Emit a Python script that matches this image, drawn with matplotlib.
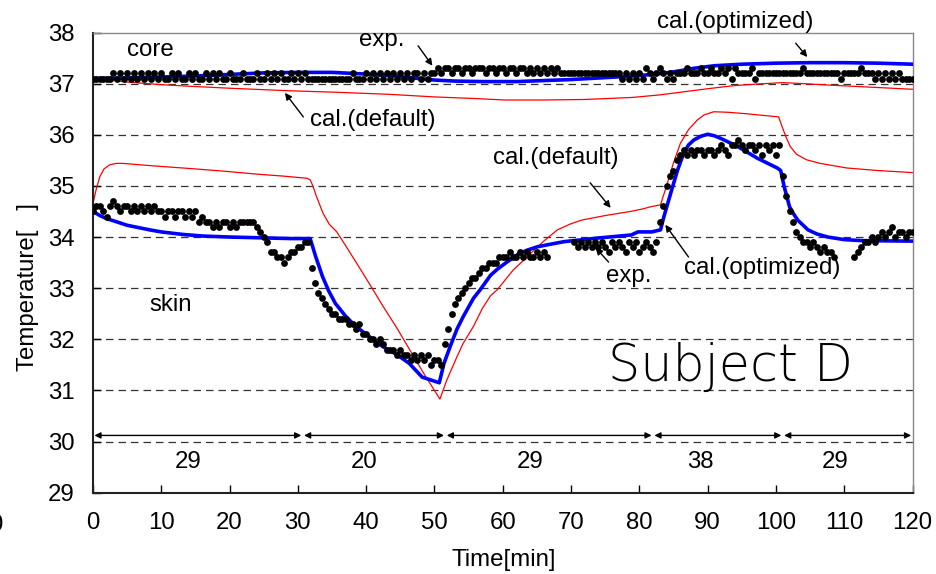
import numpy as np
import matplotlib
matplotlib.use('Agg')
import matplotlib.pyplot as plt

plt.rcParams['font.family'] = ['Liberation Sans', 'DejaVu Sans']

# measured values, sampled every 0.5 min (nan = no record)
t_exp = np.arange(0, 120.5, 0.5)

skin_exp = [
    34.5, 34.6, 34.6, 34.5, 34.4, 34.6, 34.7, 34.6, 34.5, 34.6, 34.6, 34.5, 34.6, 34.5, 34.6, 34.5, 34.6, 34.5, 34.6, 34.5,
    34.5, 34.4, 34.5, 34.5, 34.4, 34.5, 34.5, 34.4, 34.5, 34.4, 34.5, 34.3, 34.4, 34.3, 34.3, 34.2, 34.3, 34.2, 34.3, 34.3,
    34.2, 34.3, 34.2, 34.3, 34.3, 34.3, 34.3, 34.3, 34.2, 34.1, 34.0, 33.9, 33.7, 33.7, 33.6, 33.6, 33.5, 33.6, 33.7, 33.7,
    33.8, 33.8, 33.9, 33.9, 33.4, 33.1, 32.9, 32.8, 32.7, 32.6, 32.5, 32.5, 32.4, 32.4, 32.4, 32.3, 32.3, 32.2, 32.3, 32.1,
    32.1, 32.0, 32.0, 31.9, 32.0, 31.9, 31.8, 31.8, 31.8, 31.7, 31.8, 31.7, 31.7, 31.6, 31.7, 31.6, 31.7, 31.6, 31.7, 31.5,
    31.6, 31.6, 31.5, 31.9, 32.2, 32.5, 32.7, 32.8, 32.9, 33.0, 33.1, 33.2, 33.2, 33.3, 33.4, 33.4, 33.5, 33.5, 33.5, 33.6,
    33.6, 33.6, 33.7, 33.6, 33.6, 33.7, 33.6, 33.7, 33.6, 33.6, 33.7, 33.6, 33.7, 33.6, np.nan, np.nan, np.nan, np.nan, np.nan, np.nan,
    np.nan, 33.9, 33.8, 33.9, 33.8, 33.9, 33.8, 33.9, 33.8, 33.9, 33.8, 33.7, 33.9, 33.8, 33.9, 33.8, 33.7, 33.9, 33.8, 33.9,
    33.7, 33.8, 33.9, 33.8, 33.7, 33.9, 34.3, 34.6, 35.0, 35.2, 35.3, 35.5, 35.6, 35.7, 35.6, 35.7, 35.6, 35.7, 35.7, 35.6,
    35.7, 35.7, 35.6, 35.7, 35.8, 35.7, 35.6, 35.8, 35.8, 35.9, 35.8, 35.7, 35.8, 35.8, 35.7, 35.8, 35.6, 35.8, 35.7, 35.8,
    35.6, 35.8, 35.2, 34.8, 34.5, 34.3, 34.1, 34.0, 33.9, 33.9, 33.8, 33.9, 33.8, 33.7, 33.8, 33.7, 33.7, 33.6, np.nan, np.nan,
    np.nan, np.nan, np.nan, 33.6, 33.7, 33.8, 33.9, 33.9, 34.0, 33.9, 34.0, 34.1, 34.0, 34.1, 34.2, 34.0, 34.1, 34.1, 34.0, 34.1, 34.1]

core_exp = [
    37.1, 37.1, 37.1, 37.1, 37.1, 37.1, 37.2, 37.1, 37.2, 37.1, 37.2, 37.1, 37.2, 37.1, 37.2, 37.1, 37.2, 37.1, 37.2, 37.1,
    37.2, 37.1, 37.1, 37.2, 37.1, 37.2, 37.1, 37.1, 37.2, 37.1, 37.2, 37.1, 37.1, 37.2, 37.1, 37.2, 37.1, 37.2, 37.1, 37.1,
    37.2, 37.1, 37.1, 37.1, 37.2, 37.1, 37.1, 37.1, 37.2, 37.1, 37.1, 37.2, 37.1, 37.2, 37.1, 37.2, 37.1, 37.1, 37.2, 37.1,
    37.2, 37.1, 37.2, 37.1, 37.1, 37.1, 37.1, 37.1, 37.1, 37.1, 37.1, 37.1, 37.1, 37.1, 37.1, 37.1, 37.2, 37.1, 37.1, 37.1,
    37.2, 37.1, 37.2, 37.1, 37.2, 37.1, 37.2, 37.1, 37.2, 37.1, 37.2, 37.1, 37.2, 37.1, 37.2, 37.2, 37.1, 37.2, 37.1, 37.2,
    37.2, 37.3, 37.2, 37.3, 37.3, 37.2, 37.3, 37.3, 37.2, 37.3, 37.3, 37.2, 37.3, 37.3, 37.3, 37.2, 37.3, 37.3, 37.2, 37.3,
    37.3, 37.2, 37.3, 37.3, 37.2, 37.3, 37.3, 37.2, 37.3, 37.2, 37.3, 37.2, 37.3, 37.2, 37.3, 37.2, 37.3, 37.2, 37.2, 37.2,
    37.2, 37.2, 37.2, 37.2, 37.2, 37.2, 37.2, 37.2, 37.2, 37.2, 37.2, 37.2, 37.2, 37.2, 37.2, 37.1, 37.2, 37.1, 37.2, 37.1,
    37.2, 37.1, 37.3, 37.2, 37.1, 37.2, 37.3, 37.2, 37.1, 37.2, 37.1, 37.2, 37.2, 37.2, 37.3, 37.2, 37.2, 37.2, 37.3, 37.2,
    37.2, 37.3, 37.2, 37.2, 37.3, 37.2, 37.3, 37.1, 37.3, 37.2, 37.2, 37.2, 37.2, 37.3, 37.1, 37.2, 37.2, 37.2, 37.2, 37.2,
    37.2, 37.2, 37.2, 37.2, 37.2, 37.2, 37.2, 37.2, 37.3, 37.2, 37.2, 37.2, 37.2, 37.2, 37.2, 37.2, 37.2, 37.2, 37.2, 37.1,
    37.2, 37.2, 37.2, 37.2, 37.2, 37.3, 37.2, 37.2, 37.2, 37.1, 37.2, 37.1, 37.2, 37.1, 37.2, 37.1, 37.2, 37.1, 37.1, 37.1, 37.1]

# calculated curves (read at knots)
skin_opt_t = [0, 1, 2, 3.4, 5, 8.3, 10, 13.2, 16, 20, 23, 26, 29, 31.8, 32.6, 33.6, 34.5, 35.5, 37, 38.5,
              40.5, 42.4, 44.5, 46.3, 48.2, 50.7, 51.4, 52.3, 53.3, 54.2, 55.7, 56.7, 58.2, 59.2, 60.5, 62.1,
              63.5, 65.1, 67, 69, 73.9, 78.8, 79.8, 81.8, 83.1, 83.6, 84.6, 85.6, 86.5, 87.2, 88, 89, 90, 91,
              91.9, 94.4, 97.3, 100.2, 100.7, 101.2, 102, 102.6, 103.2, 104.7, 106, 107.6, 110, 112.5, 120]
skin_opt = [34.5, 34.42, 34.36, 34.3, 34.23, 34.14, 34.1, 34.05, 34.02, 34.0, 33.99, 33.98, 33.97, 33.97, 33.62,
            33.23, 32.95, 32.7, 32.45, 32.25, 32.05, 31.86, 31.7, 31.53, 31.26, 31.15, 31.53, 31.86, 32.2, 32.44,
            32.8, 32.97, 33.25, 33.37, 33.5, 33.65, 33.74, 33.81, 33.86, 33.91, 33.98, 34.04, 34.1, 34.1, 34.14,
            34.4, 34.86, 35.31, 35.64, 35.8, 35.9, 35.97, 36.01, 35.98, 35.93, 35.77, 35.54, 35.35, 35.3, 34.99,
            34.59, 34.45, 34.33, 34.14, 34.06, 34.0, 33.95, 33.93, 33.92]

skin_def_t = [0, 0.5, 1, 1.6, 2.4, 3.4, 4.4, 9, 14.2, 19, 24, 28, 31.3, 31.8, 32.2, 32.7, 33.7, 34.6, 35.7, 37,
              38.6, 40.5, 42.5, 44.5, 46.4, 48.4, 50.8, 51.8, 53.3, 54.2, 55.7, 57, 58.2, 59.2, 61.5, 64.1, 66,
              68, 69.8, 71.5, 75, 78.7, 80.5, 81.6, 83.1, 84.1, 85, 86, 87.2, 88.5, 89.5, 90.9, 93, 95.8, 98,
              100.4, 100.9, 101.5, 102.1, 103, 104.5, 106.5, 110.4, 115, 120]
skin_def = [34.66, 34.95, 35.18, 35.33, 35.41, 35.44, 35.44, 35.39, 35.34, 35.29, 35.23, 35.19, 35.15, 35.12,
            35.0, 34.8, 34.46, 34.25, 34.1, 33.83, 33.49, 33.08, 32.64, 32.22, 31.79, 31.34, 30.83, 31.2, 31.66,
            31.92, 32.25, 32.6, 32.85, 32.97, 33.35, 33.68, 33.92, 34.14, 34.25, 34.33, 34.42, 34.5, 34.55, 34.59,
            34.63, 35.05, 35.45, 35.83, 36.1, 36.29, 36.39, 36.45, 36.44, 36.41, 36.38, 36.35, 36.16, 35.95, 35.77,
            35.62, 35.51, 35.44, 35.35, 35.3, 35.26]

core_opt_t = [0, 5, 10, 15, 20, 25, 30, 35, 38, 41, 44, 47, 50, 53, 57, 62, 66, 70, 74, 78, 82, 85, 88, 91,
              95, 100, 105, 110, 115, 120]
core_opt = [37.1, 37.11, 37.13, 37.15, 37.18, 37.21, 37.22, 37.22, 37.2, 37.18, 37.15, 37.11, 37.07, 37.05,
            37.04, 37.04, 37.06, 37.08, 37.11, 37.14, 37.18, 37.23, 37.3, 37.35, 37.38, 37.4, 37.41, 37.41, 37.4, 37.38]

core_def_t = [0, 2, 5, 10, 14, 20, 28.9, 36, 43.5, 50, 55.7, 60.3, 66, 72, 79, 83, 86.5, 90, 93.8, 97, 101,
              104, 108, 114, 120]
core_def = [37.1, 37.08, 37.03, 36.98, 36.95, 36.91, 36.86, 36.83, 36.79, 36.74, 36.71, 36.68, 36.68, 36.69,
            36.73, 36.78, 36.84, 36.9, 36.96, 36.99, 37.02, 37.0, 36.97, 36.93, 36.89]

# ambient temperature periods
period_edges = [0, 30.7, 51.6, 82, 101, 120]
period_temps = ['29', '20', '29', '38', '29']
period_label_t = [14, 39.7, 64, 89, 108.7]

grid_levels = [30, 31, 32, 33, 34, 35, 36, 37]

fs = 17.3
fig = plt.figure(figsize=(9.36, 5.74), dpi=100)
ax = fig.add_axes([93/936, 1-492.7/574, (912.5-93)/936, (492.7-32.5)/574])

for v in grid_levels:
    ax.axhline(v, color='#333333', lw=0.9, ls=(0, (6, 4)), zorder=0)

ax.plot(skin_def_t, skin_def, color='red', lw=0.9, zorder=2)
ax.plot(core_def_t, core_def, color='red', lw=0.9, zorder=2)
ax.plot(skin_opt_t, skin_opt, color='#0000ff', lw=2.6, zorder=3)
ax.plot(core_opt_t, core_opt, color='#0000ff', lw=2.6, zorder=3)
ax.plot(t_exp, skin_exp, 'o', color='black', ms=4.9, mew=0, zorder=4)
ax.plot(t_exp, core_exp, 'o', color='black', ms=4.9, mew=0, zorder=4)

# period arrows along 30 degC
for i in range(len(period_temps)):
    ax.annotate('', xy=(period_edges[i], 30.12), xytext=(period_edges[i+1], 30.12),
                arrowprops=dict(arrowstyle='<|-|>', color='black', lw=1, mutation_scale=9,
                                shrinkA=1, shrinkB=1))
    ax.text(period_label_t[i], 29.61, period_temps[i], ha='center', va='center', fontsize=fs)

arrow = dict(arrowstyle='-|>', color='black', lw=1, mutation_scale=10, shrinkA=0, shrinkB=0)
ax.text(8.35, 37.66, 'core', ha='center', va='center', fontsize=fs)
ax.text(11.4, 32.67, 'skin', ha='center', va='center', fontsize=fs)
ax.annotate('', xy=(49.7, 37.35), xytext=(47.6, 37.74), arrowprops=arrow)
ax.text(42.3, 37.85, 'exp.', ha='center', va='center', fontsize=fs)
ax.annotate('', xy=(28.1, 36.82), xytext=(30.8, 36.35), arrowprops=arrow)
ax.text(41.0, 36.29, 'cal.(default)', ha='center', va='center', fontsize=fs)
ax.annotate('', xy=(104.6, 37.52), xytext=(102.9, 37.79), arrowprops=arrow)
ax.text(94.1, 38.2, 'cal.(optimized)', ha='center', va='center', fontsize=fs, clip_on=False)
ax.annotate('', xy=(75.8, 34.57), xytext=(72.8, 35.06), arrowprops=arrow)
ax.text(67.7, 35.55, 'cal.(default)', ha='center', va='center', fontsize=fs)
ax.annotate('', xy=(73.6, 33.79), xytext=(75.5, 33.51), arrowprops=arrow)
ax.text(78.5, 33.24, 'exp.', ha='center', va='center', fontsize=fs)
ax.annotate('', xy=(83.8, 34.24), xytext=(87.2, 33.61), arrowprops=arrow)
ax.text(98.0, 33.4, 'cal.(optimized)', ha='center', va='center', fontsize=fs)
ax.text(93.3, 31.46, 'Subject D', ha='center', va='center', fontsize=36.5,
        family=['DejaVu Sans'], fontweight='light')

ax.set_xlim(0, 120)
ax.set_ylim(29, 38)
ax.set_xticks(range(0, 121, 10))
ax.set_yticks(range(29, 39))
ax.tick_params(direction='in', length=6, width=1, labelsize=fs, top=False, right=False)
ax.tick_params(axis='y', pad=13)
ax.tick_params(axis='x', pad=14)
for s in ['top', 'right']:
    ax.spines[s].set_color('#888888')
    ax.spines[s].set_linewidth(1)
for s in ['left', 'bottom']:
    ax.spines[s].set_color('#222222')
    ax.spines[s].set_linewidth(1.5)

ax.set_xlabel('Time[min]', fontsize=fs)
ax.xaxis.label.set_va('center')
ax.xaxis.set_label_coords(0.5015, -0.146)
ax.set_ylabel('Temperature[   ]', fontsize=fs)
ax.yaxis.label.set_va('center')
ax.yaxis.set_label_coords(-0.0793, 0.447)

fig.text(-4/936, 1-525/574, '0', ha='center', va='center', fontsize=fs)

fig.savefig('out.png', dpi=100)
